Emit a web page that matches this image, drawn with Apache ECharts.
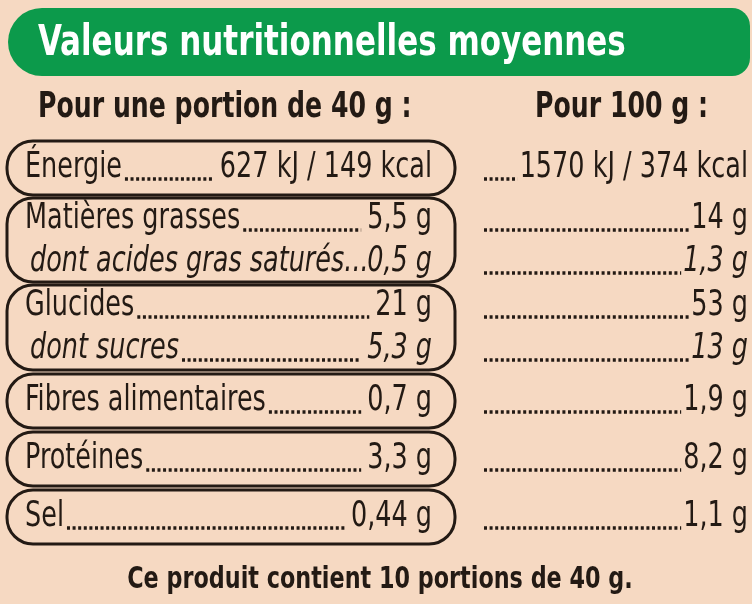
<!DOCTYPE html>
<html><head><meta charset="utf-8">
<script src="https://cdn.jsdelivr.net/npm/echarts@6/dist/echarts.min.js"></script>
<style>html,body{margin:0;padding:0;background:#f6d9c2}#c{width:752px;height:604px}</style>
</head><body><div id="c"></div>
<script>
var title = "Valeurs nutritionnelles moyennes";
var headPortion = "Pour une portion de 40 g :";
var head100 = "Pour 100 g :";
var footer = "Ce produit contient 10 portions de 40 g.";
var labels = ["Énergie", "Matières grasses", "dont acides gras saturés...", "Glucides", "dont sucres", "Fibres alimentaires", "Protéines", "Sel"];
var perPortion = ["627 kJ / 149 kcal", "5,5 g", "0,5 g", "21 g", "5,3 g", "0,7 g", "3,3 g", "0,44 g"];
var per100 = ["1570 kJ / 374 kcal", "14 g", "1,3 g", "53 g", "13 g", "1,9 g", "8,2 g", "1,1 g"];
var italicRow = [false, false, true, false, true, false, false, false];
var groups = [[0], [1, 2], [3, 4], [5], [6], [7]];

var FONT = '"Liberation Sans Narrow", "DejaVu Sans Condensed", sans-serif';
var INK = "#231a14";
var SX = 0.81;
var chart = echarts.init(document.getElementById("c"));
var ctx = document.createElement("canvas").getContext("2d");
function w(t, style, size) { ctx.font = style + " " + size + "px " + FONT; return ctx.measureText(t).width * SX; }

var g = [];
function txt(x, y, t, font, fill, align, sx) {
  g.push({ type: "text", x: x, y: y, scaleX: sx || SX, style: { x: 0, y: 0, text: t, fill: fill || INK, font: font, align: align || "left", verticalAlign: "middle" } });
}
g.push({ type: "rect", shape: { x: 8, y: 8, width: 742, height: 68, r: [34, 18, 18, 34] }, style: { fill: "#0c9a4b" } });
txt(38, 44, title, "bold 42px " + FONT, "#fff", "left", 0.82);
txt(38, 108, headPortion, "bold 35px " + FONT, INK, "left", 0.8);
txt(535, 108, head100, "bold 35px " + FONT, INK, "left", 0.8);
txt(380, 580, footer, "bold 31px " + FONT, INK, "center", 0.8);

var boxTops = [141, 198, 285, 374, 432, 490];
var rowH = [54, 84, 85, 54, 54, 54];
var FS = 35;
function dots(x1, x2, y) {
  if (x2 - x1 < 4) return;
  g.push({ type: "line", shape: { x1: x1, y1: y, x2: x2, y2: y }, style: { stroke: INK, lineWidth: 3.5, lineDash: [3, 2.6] } });
}
groups.forEach(function (rows, gi) {
  var top = boxTops[gi], h = rowH[gi];
  g.push({ type: "rect", shape: { x: 7, y: top, width: 448, height: h, r: 26 }, style: { fill: "none", stroke: INK, lineWidth: 3 } });
  rows.forEach(function (ri, k) {
    var cy = rows.length === 1 ? top + h / 2 : top + 21 + k * 43;
    var st = italicRow[ri] ? "italic" : "normal";
    var f = st + " " + FS + "px " + FONT;
    var lx = italicRow[ri] ? 30 : 25;
    var lab = labels[ri];
    var lw = w(lab, st, FS), vw = w(perPortion[ri], st, FS);
    txt(lx, cy, lab, f);
    txt(432, cy, perPortion[ri], f, INK, "right");
    dots(lx + lw + 3, 432 - vw - 6, cy + 11);
    var rw = w(per100[ri], st, FS);
    txt(748, cy, per100[ri], f, INK, "right");
    dots(484, 748 - rw - 2, cy + 11);
  });
});

chart.setOption({ backgroundColor: "#f6d9c2", animation: false, graphic: g });
</script></body></html>
